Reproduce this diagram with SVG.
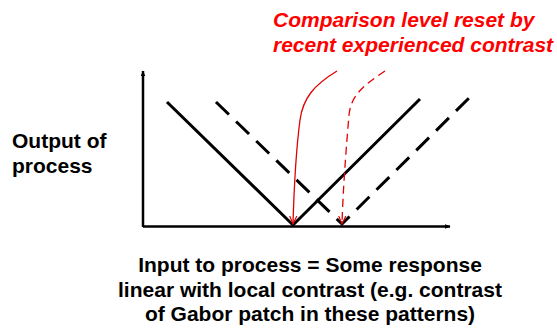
<svg xmlns="http://www.w3.org/2000/svg" width="557" height="332" viewBox="0 0 557 332">
  <defs>
    <marker id="axisHead" viewBox="0 0 10 10" refX="9" refY="5" markerWidth="6" markerHeight="6" orient="auto" markerUnits="userSpaceOnUse">
      <path d="M0,1 L10,5 L0,9 Z" fill="#000"/>
    </marker>
    <marker id="redHead" viewBox="0 0 10 10" refX="9" refY="5" markerWidth="9" markerHeight="9" orient="auto" markerUnits="userSpaceOnUse">
      <path d="M0,1 L9,5 L0,9" fill="none" stroke="#e00000" stroke-width="1.3"/>
    </marker>
    <style>
      .axis { stroke: #000; stroke-width: 2.5; fill: none; }
      .resp { stroke: #000; stroke-width: 3; fill: none; }
      .dash { stroke-dasharray: 18 10; }
      .reset { stroke: #e00000; stroke-width: 1.3; fill: none; }
      .label { font-family: "Liberation Sans", Arial, sans-serif; font-weight: bold; font-size: 21px; fill: #000; }
      .note { font-family: "Liberation Sans", Arial, sans-serif; font-weight: bold; font-style: italic; font-size: 21px; fill: #ff0000; }
    </style>
  </defs>

  <!-- axes -->
  <g id="axes">
    <line class="axis" x1="143" y1="227" x2="143" y2="71" marker-end="url(#axisHead)"/>
    <line class="axis" x1="143" y1="226.5" x2="450" y2="226.5" marker-end="url(#axisHead)"/>
  </g>

  <!-- response curves -->
  <g id="response-current">
    <polyline class="resp" points="167,102 293,225 420,99"/>
  </g>
  <g id="response-adapted">
    <polyline class="resp dash" points="216,102 342,224 469,98"/>
  </g>

  <!-- connectors: comparison level shifts -->
  <g id="connectors">
    <path class="reset" d="M337,71 C314,85 303,98 300,120 C296,150 294,190 293,224" marker-end="url(#redHead)"/>
    <path class="reset" d="M385,71 C364,85 351,95 349,115 C346,150 343,190 342,224" stroke-dasharray="8 5" marker-end="url(#redHead)"/>
  </g>

  <!-- labels -->
  <g id="note">
    <text class="note" x="273" y="27">Comparison level reset by</text>
    <text class="note" x="273" y="52">recent experienced contrast</text>
  </g>
  <g id="y-label">
    <text class="label" x="12" y="148">Output of</text>
    <text class="label" x="12" y="173">process</text>
  </g>
  <g id="x-label">
    <text class="label" x="310" y="272" text-anchor="middle">Input to process = Some response</text>
    <text class="label" x="310" y="297" text-anchor="middle">linear with local contrast (e.g. contrast</text>
    <text class="label" x="310" y="321" text-anchor="middle">of Gabor patch in these patterns)</text>
  </g>
</svg>
